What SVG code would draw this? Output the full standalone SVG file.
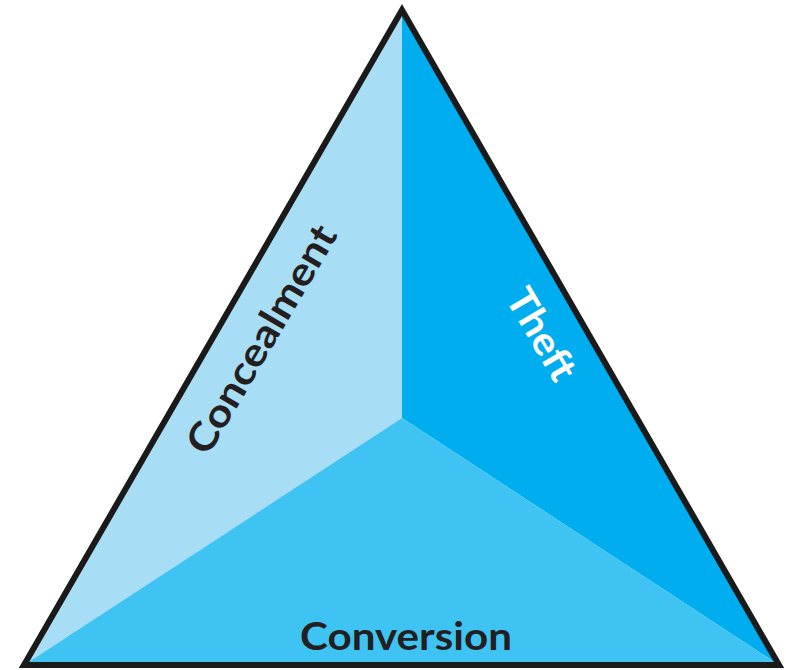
<svg xmlns="http://www.w3.org/2000/svg" width="786" height="670" viewBox="0 0 786 670">
<style>
.lbl{font-family:Lato,"Open Sans","Liberation Sans",sans-serif;font-weight:bold;font-size:39px;text-anchor:middle}
</style>
<rect width="786" height="670" fill="#fff"/>
<g id="concealment">
<polygon points="402,10 402,418 24,665" fill="#a8ddf6"/>
<text class="lbl" fill="#231f20" transform="translate(261,339) rotate(-59.6)" y="14" textLength="258" lengthAdjust="spacingAndGlyphs">Concealment</text>
</g>
<g id="theft">
<polygon points="402,10 402,418 779,665" fill="#00adee"/>
<text class="lbl" fill="#ffffff" transform="translate(542,334) rotate(59.6)" y="14" textLength="100" lengthAdjust="spacingAndGlyphs">Theft</text>
</g>
<g id="conversion">
<polygon points="402,418 24,665 779,665" fill="#3fc3f2"/>
<text class="lbl" fill="#231f20" x="406" y="650" textLength="212" lengthAdjust="spacingAndGlyphs">Conversion</text>
</g>
<g id="connectors">
<polygon points="402,10 24,665 779,665" fill="none" stroke="#1a1a1a" stroke-width="6" stroke-linejoin="miter"/>
</g>
</svg>
